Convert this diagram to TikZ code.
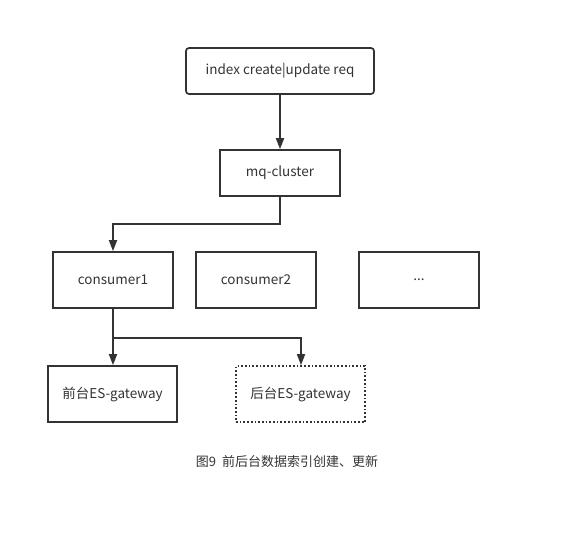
\documentclass[tikz,border=0pt]{standalone}
\usepackage{fontspec}
\setmainfont{Noto Sans CJK SC}
\usetikzlibrary{arrows.meta}
\definecolor{ink}{HTML}{333333}
\begin{document}
\begin{tikzpicture}[x=1pt,y=-1pt,
  box/.style={draw=ink,line width=1.7pt,minimum width=#1,minimum height=46pt,inner sep=0pt,font=\fontsize{13.5}{16}\selectfont,text=ink},
  box/.default=120pt,
  arr/.style={draw=ink,line width=1.7pt,-{Triangle[width=8pt,length=11pt]}}]
\useasboundingbox (0,0) rectangle (564,547);
\node[box=188pt,rounded corners=3pt] (req) at (280,71) {index create|update req};
\node[box] (mq) at (280,173) {mq-cluster};
\node[box,minimum height=56pt] (c1) at (113,280) {consumer1};
\node[box,minimum height=56pt] (c2) at (256,280) {consumer2};
\node[box,minimum height=56pt] (c3) at (419,280) {...};
\node[box=129pt,minimum height=56pt] (g1) at (112.5,394) {前台ES-gateway};
\node[box=129pt,minimum height=56pt,dotted] (g2) at (300.5,394) {后台ES-gateway};
\node[font=\fontsize{13}{16}\selectfont,text=ink] (cap) at (287,462) {图9\ \ 前后台数据索引创建、更新};
\draw[arr] (req) -- (mq);
\coordinate (m1) at (280,224);
\coordinate (m2) at (113,224);
\draw[arr] (mq.south) -- (m1) -- (m2) -- (c1.north);
\coordinate (b1) at (113,338);
\coordinate (b2) at (301,338);
\draw[arr] (c1.south) -- (b1) -- (g1.north -| b1);
\draw[arr] (b1) -- (b2) -- (g2.north -| b2);
\end{tikzpicture}
\end{document}
